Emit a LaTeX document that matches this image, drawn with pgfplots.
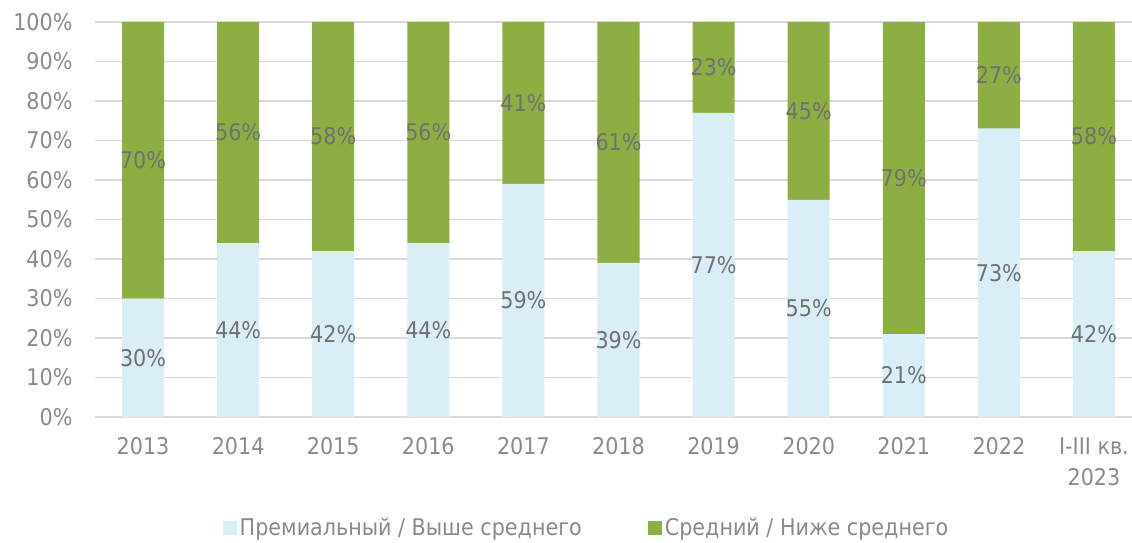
\documentclass[border=0pt]{standalone}
\usepackage{fontspec}
\setmainfont{DejaVu Sans Condensed}
\usepackage{pgfplots}
\pgfplotsset{compat=1.18}
\usepackage{pgfplotstable}

\definecolor{prem}{HTML}{DAEEF8}
\definecolor{mid}{HTML}{8DAE42}
\definecolor{gridc}{HTML}{D9D9D9}
\definecolor{tickc}{HTML}{8A8A8A}
\definecolor{labc}{HTML}{707070}

\pgfplotstableread{
x a b
0 30 70
1 44 56
2 42 58
3 44 56
4 59 41
5 39 61
6 77 23
7 55 45
8 21 79
9 73 27
10 42 58
}\shares

\begin{document}
\begin{tikzpicture}[font=\fontsize{23}{31}\selectfont]
\begin{axis}[
  scale only axis,
  width=1037pt, height=395pt,
  xmin=-0.505, xmax=10.4,
  ymin=0, ymax=100,
  ybar stacked,
  bar width=42pt,
  axis x line*=bottom, axis y line*=left,
  axis line style={draw=none},
  major tick length=0pt,
  ymajorgrids,
  grid style={gridc, line width=1.5pt},
  /pgf/number format/assume math mode=true,
  xtick={0,...,10},
  xticklabels={2013,2014,2015,2016,2017,2018,2019,2020,2021,2022,{I-III кв.\\2023}},
  xticklabel style={align=center, text=tickc, yshift=-17pt},
  ytick={0,10,...,100},
  yticklabel={\pgfmathprintnumber{\tick}\%},
  yticklabel style={text=tickc, xshift=-19pt},
  point meta=explicit symbolic,
  nodes near coords={\pgfplotspointmeta\%},
  every node near coord/.append style={anchor=center, text=labc},
  legend style={draw=none, at={(axis description cs:0.4745,-0.281)}, anchor=center,
    text=tickc, legend columns=2,
    /tikz/every even column/.append style={column sep=63pt},
    nodes={inner xsep=3pt}},
  legend image code/.code={\fill[#1] (0pt,-7pt) rectangle (14pt,7pt);},
]
\addplot[fill=prem, draw=none] table[x=x, y=a, meta=a] {\shares};
\addplot[fill=mid, draw=none] table[x=x, y=b, meta=b] {\shares};
\legend{Премиальный / Выше среднего, Средний / Ниже среднего}
\end{axis}
\pgfresetboundingbox
\useasboundingbox (-95pt,-125pt) rectangle (1037pt,417pt);
\end{tikzpicture}
\end{document}
